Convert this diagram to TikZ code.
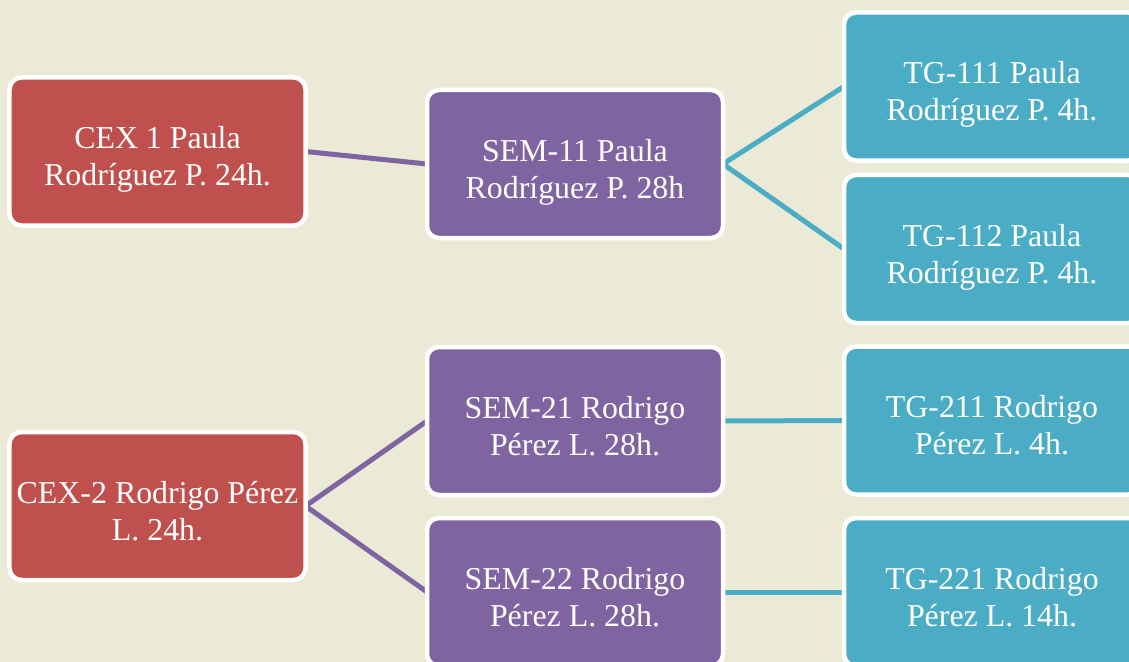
\documentclass[tikz,border=0pt]{standalone}
\usepackage{fontspec}
\setmainfont{Liberation Serif}
\definecolor{bgc}{HTML}{EBEAD6}
\definecolor{redc}{HTML}{C0504D}
\definecolor{purc}{HTML}{8064A2}
\definecolor{tealc}{HTML}{4BACC6}
\pgfdeclarelayer{ground}
\pgfdeclarelayer{back}
\pgfsetlayers{ground,back,main}
\tikzset{
  box/.style={draw=white, line width=4.5bp, rounded corners=12bp,
    minimum width=296bp, minimum height=148bp, text=white, align=center,
    font=\fontsize{32}{37}\selectfont, inner sep=0pt, outer sep=0pt,
    text height=68bp, text depth=0bp},
  redbox/.style={box, fill=redc},
  purbox/.style={box, fill=purc},
  tealbox/.style={box, fill=tealc},
  purline/.style={draw=purc, line width=5bp},
  tealline/.style={draw=tealc, line width=5bp}
}
\begin{document}
\begin{tikzpicture}[x=1bp,y=-1bp]
\useasboundingbox (0,0) rectangle (1129,662);
\begin{pgfonlayer}{ground}
\fill[bgc] (0,0) rectangle (1129,662);
\end{pgfonlayer}
\begin{scope}
\clip (0,0) rectangle (1129,662);
\node[redbox] (cex1) at (157.5,151.5) {CEX 1 Paula\\Rodríguez P. 24h.};
\node[purbox] (sem11) at (575,164) {SEM-11 Paula\\Rodríguez P. 28h};
\node[tealbox] (tg111) at (992,86.5) {TG-111 Paula\\Rodríguez P. 4h.};
\node[tealbox] (tg112) at (992,249) {TG-112 Paula\\Rodríguez P. 4h.};
\node[redbox] (cex2) at (157.5,506) {CEX-2 Rodrigo Pérez\\L. 24h.};
\node[purbox] (sem21) at (575,421) {SEM-21 Rodrigo\\Pérez L. 28h.};
\node[purbox] (sem22) at (575,592) {SEM-22 Rodrigo\\Pérez L. 28h.};
\node[tealbox] (tg211) at (992,420.5) {TG-211 Rodrigo\\Pérez L. 4h.};
\node[tealbox] (tg221) at (992,592) {TG-221 Rodrigo\\Pérez L. 14h.};
\end{scope}
\begin{pgfonlayer}{back}
\draw[purline] (cex1.east) -- (sem11.west);
\draw[tealline] (tg111.west) -- (sem11.east) -- (tg112.west);
\draw[purline] (sem21.west) -- (cex2.east) -- (sem22.west);
\draw[tealline] (sem21.east) -- (tg211.west);
\draw[tealline] (sem22.east) -- (tg221.west);
\end{pgfonlayer}
\end{tikzpicture}
\end{document}
